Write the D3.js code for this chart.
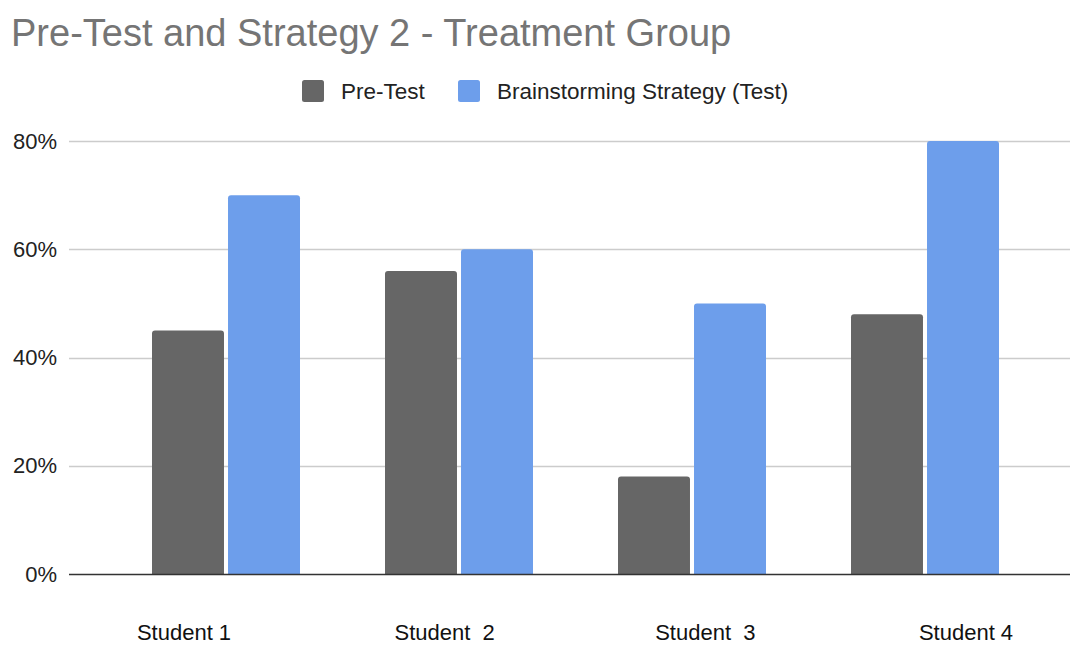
<!DOCTYPE html>
<html><head><meta charset="utf-8">
<script src="https://cdn.jsdelivr.net/npm/d3@7"></script>
<style>
html,body{margin:0;padding:0;background:#fff;}
svg{display:block;font-family:"Liberation Sans",Arial,sans-serif;}
</style></head>
<body><svg id="c" width="1070" height="645"></svg>
<script>
const categories = ["Student 1", "Student  2", "Student  3", "Student 4"];
const seriesNames = ["Pre-Test", "Brainstorming Strategy (Test)"];
const preTest = [0.45, 0.56, 0.18, 0.48];
const brainstorming = [0.70, 0.60, 0.50, 0.80];
const yTicks = [0, 0.2, 0.4, 0.6, 0.8];
const colors = ["#666666", "#6d9eeb"];

(function () {
const svg = d3.select("#c");
const pLeft = 69, pRight = 1070, pTop = 141, pBottom = 574;

svg.append("text").attr("x", 11).attr("y", 46)
  .attr("font-size", 38).attr("fill", "#757575")
  .text("Pre-Test and Strategy 2 - Treatment Group");

const y = d3.scaleLinear().domain([0, 0.8]).range([pBottom, pTop]);
const x0 = d3.scaleBand().domain(categories).range([109.5, 1041.5]).padding(0);
const xl = d3.scalePoint().domain(categories).range([184, 966]);

const grid = svg.append("g");
yTicks.forEach(t => {
  if (t === 0) return;
  grid.append("line").attr("x1", pLeft).attr("x2", pRight)
    .attr("y1", Math.round(y(t)) + 0.5).attr("y2", Math.round(y(t)) + 0.5)
    .attr("stroke", "#cccccc").attr("stroke-width", 1.5);
});
const yAxis = d3.axisLeft(y).tickValues(yTicks).tickFormat(d3.format(".0%")).tickSize(0).tickPadding(12);
const ya = svg.append("g").attr("transform", `translate(${pLeft},0)`).call(yAxis);
ya.select(".domain").remove();
ya.selectAll("text").attr("font-size", 22).attr("fill", "#222").attr("font-family", "Liberation Sans, Arial, sans-serif");

function topRounded(x, yTop, w, h, r) {
  const p = d3.path();
  r = Math.min(r, h / 2, w / 2);
  p.moveTo(x, yTop + h);
  p.lineTo(x, yTop + r);
  p.arcTo(x, yTop, x + r, yTop, r);
  p.lineTo(x + w - r, yTop);
  p.arcTo(x + w, yTop, x + w, yTop + r, r);
  p.lineTo(x + w, yTop + h);
  p.closePath();
  return p.toString();
}

const groupW = 148;
const x1 = d3.scaleBand().domain(seriesNames).range([0, groupW]).paddingInner(0.053);
const data = categories.map((c, i) => ({cat: c, vals: [preTest[i], brainstorming[i]]}));
const g = svg.append("g");
data.forEach(d => {
  const cx = x0(d.cat) + x0.bandwidth() / 2;
  d.vals.forEach((v, j) => {
    const bx = cx - groupW / 2 + x1(seriesNames[j]);
    const yt = y(v);
    g.append("path").attr("d", topRounded(bx, yt, x1.bandwidth(), pBottom - yt, 3))
      .attr("fill", colors[j]);
  });
});

svg.append("line").attr("x1", pLeft).attr("x2", pRight)
  .attr("y1", pBottom + 0.5).attr("y2", pBottom + 0.5)
  .attr("stroke", "#333333").attr("stroke-width", 1.5);

svg.append("g").selectAll("text").data(categories).join("text")
  .attr("x", d => xl(d)).attr("y", 640)
  .attr("text-anchor", "middle").attr("font-size", 22).attr("fill", "#111")
  .style("white-space", "pre").attr("xml:space", "preserve")
  .text(d => d);

const leg = svg.append("g");
const legX = [302, 458];
seriesNames.forEach((s, i) => {
  leg.append("rect").attr("x", legX[i]).attr("y", 80).attr("width", 22).attr("height", 22)
    .attr("rx", 2.5).attr("fill", colors[i]);
  leg.append("text").attr("x", legX[i] + 39).attr("y", 99)
    .attr("font-size", 22.5).attr("fill", "#222").text(s);
});
})();
</script></body></html>
